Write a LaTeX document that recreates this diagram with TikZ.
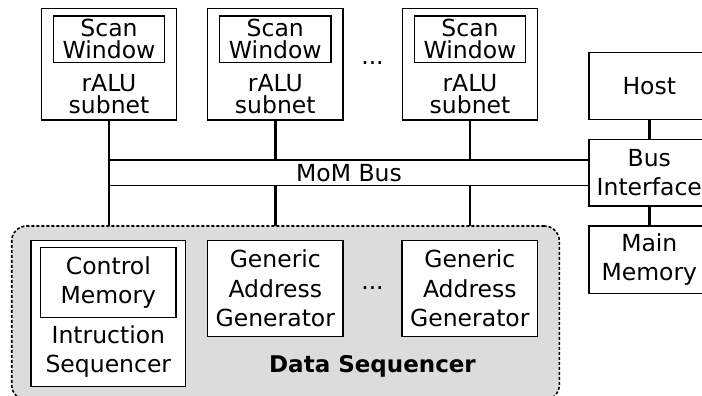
\documentclass[tikz,border=0pt]{standalone}
\usepackage{fontspec}
\setmainfont{DejaVu Sans}
\definecolor{groupfill}{RGB}{220,220,220}
\begin{document}
\begin{tikzpicture}[x=1pt,y=-1pt,
  box/.style={draw, line width=1.3pt, fill=white, inner sep=0pt, outer sep=0pt},
  txt/.style={align=center, inner sep=0pt, font=\fontsize{23.5}{29.5}\selectfont},
  swtext/.style={align=center, inner sep=0pt, font=\fontsize{23.5}{22}\selectfont},
  link/.style={line width=2.7pt},
  group/.style={draw, line width=1.6pt, dash pattern=on 3pt off 2pt, fill=groupfill,
    rounded corners=15pt, inner sep=0pt, outer sep=0pt},
]
\clip (0,0) rectangle (702,396);
\fill[white] (0,0) rectangle (702,396);

% data sequencer group
\node[group, minimum width=547.6, minimum height=174] (ds) at (285.5,313) {};

% rALU subnets with their scan windows
\node[box, minimum width=135.5, minimum height=111.3] (r1) at (109,64.35) {};
\node[box, minimum width=135.5, minimum height=111.3] (r2) at (275.3,64.35) {};
\node[box, minimum width=135.5, minimum height=111.3] (r3) at (470,64.35) {};
\node[box, swtext, minimum width=111.3, minimum height=46.3] (sw1) at (109,39.2) {Scan\\Window};
\node[box, swtext, minimum width=111.3, minimum height=46.3] (sw2) at (275.3,39.2) {Scan\\Window};
\node[box, swtext, minimum width=111.3, minimum height=46.3] (sw3) at (470,39.2) {Scan\\Window};
\node[swtext] (a1) at (109,94.5) {rALU\\subnet};
\node[swtext] (a2) at (275.3,94.5) {rALU\\subnet};
\node[swtext] (a3) at (470,94.5) {rALU\\subnet};
\node[txt] (dots1) at (372.5,63) {...};

% bus
\node[draw, line width=1.2pt, inner sep=0pt, outer sep=0pt, minimum width=480,
  minimum height=25.7, txt] (bus) at (349,172.85) {MoM Bus};

% host side
\node[box, txt, minimum width=120.6, minimum height=66.6] (host) at (649.3,86) {Host};
\node[box, txt, minimum width=120.6, minimum height=66.7] (bi) at (649.3,172.7) {Bus\\Interface};
\node[box, txt, minimum width=120.6, minimum height=67.3] (mm) at (649.3,259.7) {Main\\Memory};

% sequencer contents
\node[box, minimum width=154.7, minimum height=146.4] (is) at (108.35,313.5) {};
\node[box, txt, minimum width=135.3, minimum height=69.6] (cm) at (108.35,282.5) {Control\\Memory};
\node[txt] (ist) at (108.35,351.7) {Intruction\\Sequencer};
\node[box, txt, minimum width=135.3, minimum height=96.4] (g1) at (275.35,288.5) {Generic\\Address\\Generator};
\node[box, txt, minimum width=135.7, minimum height=96.4] (g2) at (469.85,288.5) {Generic\\Address\\Generator};
\node[txt] (dots2) at (372.5,288.3) {...};
\node[txt, font=\fontsize{23}{29.5}\selectfont\bfseries] (dslabel) at (372.5,366.7) {Data Sequencer};

% connectors
\foreach \n in {r1,r2,r3} {
  \draw[link] (\n.south) -- (\n.south |- bus.north);
  \draw[link] (\n.south |- bus.south) -- (\n.south |- ds.north);
}
\draw[link] (host.south) -- (bi.north);
\draw[link] (bi.south) -- (mm.north);
\end{tikzpicture}
\end{document}
